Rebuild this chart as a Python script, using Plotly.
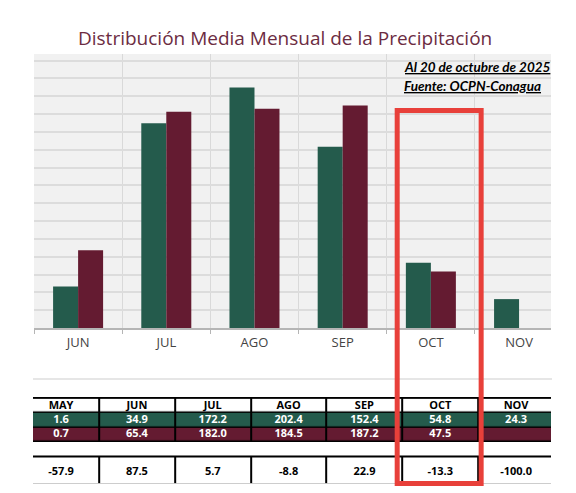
import plotly.graph_objects as go

# ---------------- data ----------------
MONTHS = ["JUN", "JUL", "AGO", "SEP", "OCT", "NOV"]
TABLE_MONTHS = ["MAY", "JUN", "JUL", "AGO", "SEP", "OCT", "NOV"]
MEDIA = [1.6, 34.9, 172.2, 202.4, 152.4, 54.8, 24.3]          # green series
OBS_2025 = [0.7, 65.4, 182.0, 184.5, 187.2, 47.5, None]       # maroon series
ANOMALIA = [-57.9, 87.5, 5.7, -8.8, 22.9, -13.3, -100.0]      # % difference row
TITLE = "Distribución Media Mensual de la Precipitación"
NOTE_1 = "Al 20 de octubre de 2025"
NOTE_2 = "Fuente: OCPN-Conagua"
HIGHLIGHT = "OCT"

# ---------------- styles ----------------
GREEN = "#245b4c"
MAROON = "#641b31"
TITLE_COLOR = "#6c2c42"
RED = "#e8403a"
W, H = 576, 493


def fmt(v):
    return "" if v is None else f"{v:.1f}"


def px_y(p):
    return 1 - p / H


green_vals = [MEDIA[TABLE_MONTHS.index(m)] for m in MONTHS]
maroon_vals = [OBS_2025[TABLE_MONTHS.index(m)] for m in MONTHS]

fig = go.Figure()
fig.add_trace(go.Bar(x=MONTHS, y=green_vals, marker=dict(color=GREEN, line=dict(width=0)),
                     xaxis="x", yaxis="y", hoverinfo="skip"))
fig.add_trace(go.Bar(x=MONTHS, y=maroon_vals, marker=dict(color=MAROON, line=dict(width=0)),
                     xaxis="x", yaxis="y", hoverinfo="skip"))

# table (header + two data rows): heatmap cells, gaps act as borders
cols = list(range(len(TABLE_MONTHS)))
rows_top = [0, 1, 2]
z_top = [[0] * len(cols), [1] * len(cols), [2] * len(cols)]
text_top = [TABLE_MONTHS, [fmt(v) for v in MEDIA], [fmt(v) for v in OBS_2025]]
row_text_colors = ["black", "white", "white"]
cscale = [[0, "#ffffff"], [0.33, "#ffffff"], [0.34, GREEN], [0.66, GREEN],
          [0.67, MAROON], [1, MAROON]]
TFONT_FAMILY = "Open Sans"
TFONT_SIZE = 11

fig.add_trace(go.Heatmap(x=cols, y=rows_top, z=z_top,
                         colorscale=cscale, zmin=0, zmax=2, showscale=False,
                         xgap=2, ygap=1.5, xaxis="x2", yaxis="y2", hoverinfo="skip"))
for r, txt, tc in zip(rows_top, text_top, row_text_colors):
    fig.add_trace(go.Scatter(x=cols, y=[r] * len(cols), text=txt, mode="text",
                             textposition="middle center",
                             textfont=dict(family=TFONT_FAMILY, size=TFONT_SIZE,
                                           color=tc, weight="bold"),
                             xaxis="x2", yaxis="y2", hoverinfo="skip"))

fig.add_trace(go.Heatmap(x=cols, y=[0], z=[[0] * len(cols)],
                         colorscale=cscale, zmin=0, zmax=2, showscale=False,
                         xgap=2, ygap=0, xaxis="x3", yaxis="y3", hoverinfo="skip"))
fig.add_trace(go.Scatter(x=cols, y=[0] * len(cols), text=[fmt(v) for v in ANOMALIA],
                         mode="text", textposition="middle center",
                         textfont=dict(family=TFONT_FAMILY, size=TFONT_SIZE,
                                       color="black", weight="bold"),
                         xaxis="x3", yaxis="y3", hoverinfo="skip"))

hi = MONTHS.index(HIGHLIGHT)

fig.update_layout(
    width=W, height=H,
    margin=dict(l=0, r=0, t=0, b=0),
    paper_bgcolor="white",
    plot_bgcolor="#f1f1f1",
    showlegend=False,
    barmode="group", bargap=0.433, bargroupgap=0,
    title=dict(text=TITLE, x=0.495, xanchor="center", y=px_y(38), yanchor="middle",
               font=dict(family="Open Sans", size=19, color=TITLE_COLOR)),
    xaxis=dict(domain=[34 / W, 551 / W], range=[-0.5, 5.362], type="category",
               tickson="boundaries", showgrid=True, gridcolor="#d9d9d9", gridwidth=1,
               ticks="outside", ticklen=4, tickcolor="#b5b5b5",
               showline=True, linecolor="#b5b5b5", linewidth=1.5,
               tickfont=dict(family="Open Sans", size=13, color="#444444"),
               ticklabelstandoff=2,
               anchor="y", fixedrange=True),
    yaxis=dict(domain=[px_y(328), px_y(54)], range=[0, 230.5], dtick=15,
               showticklabels=False, showgrid=True, gridcolor="#dcdcdc", gridwidth=1.5,
               zeroline=False, anchor="x", fixedrange=True),
    xaxis2=dict(domain=[33 / W, 551 / W], range=[-0.37, 6.46], visible=False, anchor="y2"),
    yaxis2=dict(domain=[px_y(442), px_y(397)], range=[2.51, -0.63], visible=False, anchor="x2"),
    xaxis3=dict(domain=[33 / W, 551 / W], range=[-0.37, 6.46], visible=False, anchor="y3"),
    yaxis3=dict(domain=[px_y(483.3), px_y(455.5)], range=[0.405, -0.57], visible=False, anchor="x3"),
    shapes=[
        dict(type="rect", xref="x2 domain", yref="y2 domain", x0=0, x1=1, y0=0, y1=1,
             fillcolor="black", line=dict(width=0), layer="below"),
        dict(type="rect", xref="x3 domain", yref="y3 domain", x0=0, x1=1, y0=0, y1=1,
             fillcolor="black", line=dict(width=0), layer="below"),
        dict(type="line", xref="paper", yref="paper", x0=33 / W, x1=552 / W,
             y0=px_y(379), y1=px_y(379), line=dict(color="#e6e6e6", width=2)),
        dict(type="rect", xref="x", yref="paper", x0=hi - 0.382, x1=hi + 0.57,
             y0=px_y(483.5), y1=px_y(110.5), line=dict(color=RED, width=5),
             fillcolor="rgba(0,0,0,0)", layer="above"),
    ],
    annotations=[
        dict(text=f"<b><i><u>{NOTE_1}</u></i></b>", xref="paper", yref="paper",
             x=402 / W, y=px_y(67), xanchor="left", yanchor="middle", showarrow=False,
             font=dict(family="Lato", size=13.5, color="black")),
        dict(text=f"<b><i><u>{NOTE_2}</u></i></b>", xref="paper", yref="paper",
             x=402 / W, y=px_y(86), xanchor="left", yanchor="middle", showarrow=False,
             font=dict(family="Lato", size=13.5, color="black")),
    ],
)

fig.write_html("out.html")
